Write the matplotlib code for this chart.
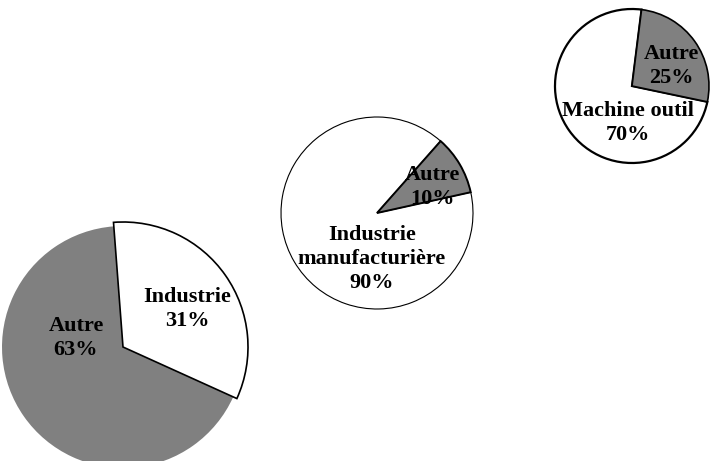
import matplotlib
matplotlib.use("Agg")
import matplotlib.pyplot as plt

# Shares shown in each pie (percent)
big_labels = ["Industrie", "Autre"]
big_values = [31, 63]

mid_labels = ["Autre", "Industrie\nmanufacturière"]
mid_values = [10, 90]

small_labels = ["Autre", "Machine outil"]
small_values = [25, 70]

GREY = "#808080"
plt.rcParams["font.family"] = ["Liberation Serif", "DejaVu Serif"]

fig = plt.figure(figsize=(7.12, 4.61), dpi=100)
ax = fig.add_axes([0, 0, 1, 1])
H = 461


def start_for(values, mid_angle):
    """Start angle (clockwise drawing) that centres the first wedge on mid_angle."""
    frac = values[0] / sum(values)
    return mid_angle + 180 * frac


def pie(values, colors, center, radius, mid_angle, edges):
    wedges, _ = ax.pie(values, colors=colors, center=(center[0], H - center[1]),
                       radius=radius, counterclock=False,
                       startangle=start_for(values, mid_angle))
    for w, (ec, lw) in zip(wedges, edges):
        if ec is None:
            w.set_edgecolor("none")
        else:
            w.set_edgecolor(ec)
            w.set_linewidth(lw)
    return wedges


def label(text, value, xy):
    ax.text(xy[0], H - xy[1], f"{text}\n{value}%", ha="center", va="center",
            fontsize=16, fontweight="bold", linespacing=1.25, color="black")


# Large pie (bottom left)
bw = pie(big_values, ["white", GREY], (123, 347), 121, 35,
         [("black", 1.2), (None, 0)])
bw[0].set_radius(125)
bw[0].set_zorder(3)
label(big_labels[0], big_values[0], (187, 309))
label(big_labels[1], big_values[1], (76, 338))

# Middle pie
mw = pie(mid_values, [GREY, "white"], (377, 213), 96, 30.5,
         [("black", 1.4), ("black", 0.8)])
mw[0].set_zorder(3)
label(mid_labels[0], mid_values[0], (432, 187))
label(mid_labels[1], mid_values[1], (372, 259))

# Small pie (top right)
sw = pie(small_values, [GREY, "white"], (632, 86), 77, 35.5,
         [("black", 1.2), ("black", 1.6)])
sw[0].set_zorder(3)
label(small_labels[0], small_values[0], (671, 66))
label(small_labels[1], small_values[1], (628, 123))

for t in ax.texts:
    t.set_zorder(5)

ax.set_xlim(0, 712)
ax.set_ylim(0, H)
ax.set_aspect("equal")
ax.axis("off")

fig.savefig("out.png", dpi=100)
